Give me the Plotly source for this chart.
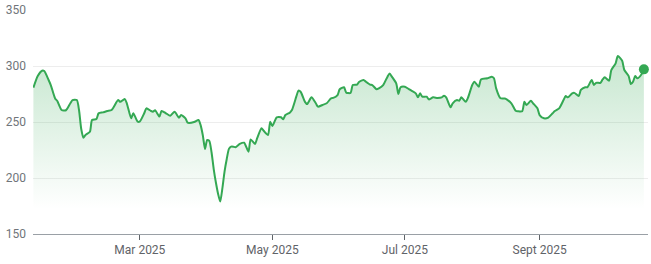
import plotly.graph_objects as go

dates = [
    "2025-01-11", "2025-01-13", "2025-01-15", "2025-01-16", "2025-01-18", "2025-01-19",
    "2025-01-21", "2025-01-22", "2025-01-24", "2025-01-26", "2025-01-28", "2025-01-29",
    "2025-01-31", "2025-02-01", "2025-02-02", "2025-02-03", "2025-02-04", "2025-02-06",
    "2025-02-07", "2025-02-09", "2025-02-10", "2025-02-12", "2025-02-14", "2025-02-16",
    "2025-02-19", "2025-02-20", "2025-02-22", "2025-02-23", "2025-02-25", "2025-02-26",
    "2025-02-28", "2025-03-01", "2025-03-03", "2025-03-04", "2025-03-06", "2025-03-07",
    "2025-03-08", "2025-03-10", "2025-03-11", "2025-03-13", "2025-03-15", "2025-03-17",
    "2025-03-19", "2025-03-20", "2025-03-22", "2025-03-23", "2025-03-26", "2025-03-28",
    "2025-03-29", "2025-03-30", "2025-03-31", "2025-04-01", "2025-04-02", "2025-04-03",
    "2025-04-04", "2025-04-05", "2025-04-06", "2025-04-07", "2025-04-08", "2025-04-09",
    "2025-04-10", "2025-04-11", "2025-04-12", "2025-04-13", "2025-04-14", "2025-04-16",
    "2025-04-18", "2025-04-20", "2025-04-21", "2025-04-23", "2025-04-24", "2025-04-26",
    "2025-04-27", "2025-04-29", "2025-04-30", "2025-05-01", "2025-05-03", "2025-05-05",
    "2025-05-06", "2025-05-07", "2025-05-09", "2025-05-10", "2025-05-12", "2025-05-13",
    "2025-05-14", "2025-05-16", "2025-05-17", "2025-05-19", "2025-05-21", "2025-05-22",
    "2025-05-24", "2025-05-26", "2025-05-28", "2025-05-29", "2025-05-31", "2025-06-01",
    "2025-06-03", "2025-06-04", "2025-06-06", "2025-06-07", "2025-06-09", "2025-06-10",
    "2025-06-12", "2025-06-13", "2025-06-15", "2025-06-16", "2025-06-18", "2025-06-19",
    "2025-06-21", "2025-06-23", "2025-06-24", "2025-06-25", "2025-06-27", "2025-06-28",
    "2025-06-29", "2025-07-01", "2025-07-03", "2025-07-04", "2025-07-06", "2025-07-07",
    "2025-07-08", "2025-07-09", "2025-07-11", "2025-07-12", "2025-07-14", "2025-07-16",
    "2025-07-18", "2025-07-19", "2025-07-20", "2025-07-22", "2025-07-23", "2025-07-25",
    "2025-07-26", "2025-07-27", "2025-07-29", "2025-07-30", "2025-08-01", "2025-08-02",
    "2025-08-04", "2025-08-05", "2025-08-08", "2025-08-10", "2025-08-11", "2025-08-12",
    "2025-08-14", "2025-08-16", "2025-08-17", "2025-08-19", "2025-08-21", "2025-08-22",
    "2025-08-24", "2025-08-25", "2025-08-26", "2025-08-28", "2025-08-29", "2025-08-31",
    "2025-09-01", "2025-09-03", "2025-09-05", "2025-09-07", "2025-09-08", "2025-09-10",
    "2025-09-12", "2025-09-13", "2025-09-14", "2025-09-16", "2025-09-17", "2025-09-19",
    "2025-09-20", "2025-09-22", "2025-09-23", "2025-09-25", "2025-09-26", "2025-09-27",
    "2025-09-29", "2025-09-30", "2025-10-01", "2025-10-03", "2025-10-04", "2025-10-06",
    "2025-10-07", "2025-10-09", "2025-10-10", "2025-10-12", "2025-10-13", "2025-10-14",
    "2025-10-15", "2025-10-16", "2025-10-18", "2025-10-19",
]

prices = [
    280.6, 291.0, 295.8, 295.5, 287.5, 283.0,
    271.0, 268.7, 260.7, 260.5, 266.7, 269.6,
    269.6, 260.7, 244.0, 236.0, 238.4, 241.3,
    251.8, 252.7, 257.7, 258.6, 259.8, 260.7,
    269.6, 268.0, 270.5, 266.7, 253.3, 257.8,
    250.3, 250.5, 257.8, 262.2, 260.0, 259.2,
    260.5, 254.8, 259.8, 257.8, 255.6, 259.2,
    253.9, 256.2, 253.3, 249.4, 250.0, 251.8,
    247.0, 238.0, 226.0, 234.0, 233.0, 223.0,
    208.0, 196.0, 186.0, 179.0, 191.0, 206.0,
    217.0, 226.0, 228.0, 228.0, 227.5, 230.4,
    231.5, 223.5, 234.5, 230.4, 235.5, 244.4,
    242.2, 238.4, 250.3, 246.4, 254.2, 254.2,
    252.4, 256.2, 258.3, 260.7, 272.6, 278.0,
    277.0, 268.0, 266.0, 272.0, 266.7, 263.7,
    265.2, 266.7, 271.2, 271.5, 274.1, 279.2,
    281.0, 276.2, 276.0, 283.0, 283.4, 286.0,
    287.5, 286.0, 283.4, 283.0, 279.2, 280.0,
    283.0, 290.5, 293.4, 290.5, 284.5, 275.0,
    281.0, 281.5, 279.2, 278.0, 275.6, 272.0,
    275.6, 272.6, 272.6, 270.2, 272.0, 271.5,
    272.0, 273.4, 272.0, 263.1, 266.7, 269.6,
    269.0, 272.0, 268.1, 271.5, 283.0, 286.0,
    281.5, 288.0, 289.0, 290.5, 289.0, 280.0,
    271.2, 271.0, 270.0, 266.7, 260.0, 259.6,
    259.6, 268.0, 265.2, 269.0, 266.7, 262.2,
    256.2, 253.3, 254.0, 257.8, 259.8, 262.2,
    269.6, 273.2, 272.0, 275.6, 276.0, 273.2,
    278.6, 281.0, 281.0, 287.5, 283.0, 285.0,
    285.0, 288.0, 289.9, 286.9, 296.4, 302.4,
    308.9, 304.7, 296.4, 291.0, 283.9, 286.0,
    291.0, 289.0, 292.9, 297.0,
]

tick_dates = ["2025-03-01", "2025-05-01", "2025-07-01", "2025-09-01"]
tick_labels = ["Mar 2025", "May 2025", "Jul 2025", "Sept 2025"]
y_ticks = [150, 200, 250, 300, 350]

GREEN = "#34a853"

fig = go.Figure()
fig.add_trace(go.Scatter(
    x=dates, y=prices, mode="lines",
    line=dict(color=GREEN, width=2, shape="spline", smoothing=0.6),
    fill="tozeroy",
    fillgradient=dict(
        type="vertical", start=172, stop=300,
        colorscale=[[0, "rgba(52,168,83,0)"], [1, "rgba(52,168,83,0.26)"]],
    ),
    hoverinfo="skip", showlegend=False,
))
fig.add_trace(go.Scatter(
    x=[dates[-1]], y=[prices[-1]], mode="markers",
    marker=dict(color=GREEN, size=10),
    cliponaxis=False, hoverinfo="skip", showlegend=False,
))

fig.update_layout(
    width=651, height=264,
    margin=dict(l=33, r=3, t=10, b=30),
    paper_bgcolor="white", plot_bgcolor="white",
    font=dict(family="Roboto, Arial, sans-serif", size=12, color="#70757a"),
)
fig.update_xaxes(
    range=["2025-01-10 19:40", "2025-10-20 21:30"],
    tickvals=tick_dates, ticktext=tick_labels,
    showgrid=False, zeroline=False,
    showline=True, linecolor="#9aa0a6", linewidth=1,
    ticks="outside", ticklen=5, tickcolor="#5f6368", tickwidth=1,
    tickfont=dict(size=12, color="#5f6368"),
)
fig.update_yaxes(
    range=[150, 350], tickvals=y_ticks,
    showgrid=True, gridcolor="#ededed", gridwidth=1,
    zeroline=False, showline=False, ticks="",
    ticklabelstandoff=6,
    tickfont=dict(size=12, color="#70757a"),
)

fig.write_html("out.html")
